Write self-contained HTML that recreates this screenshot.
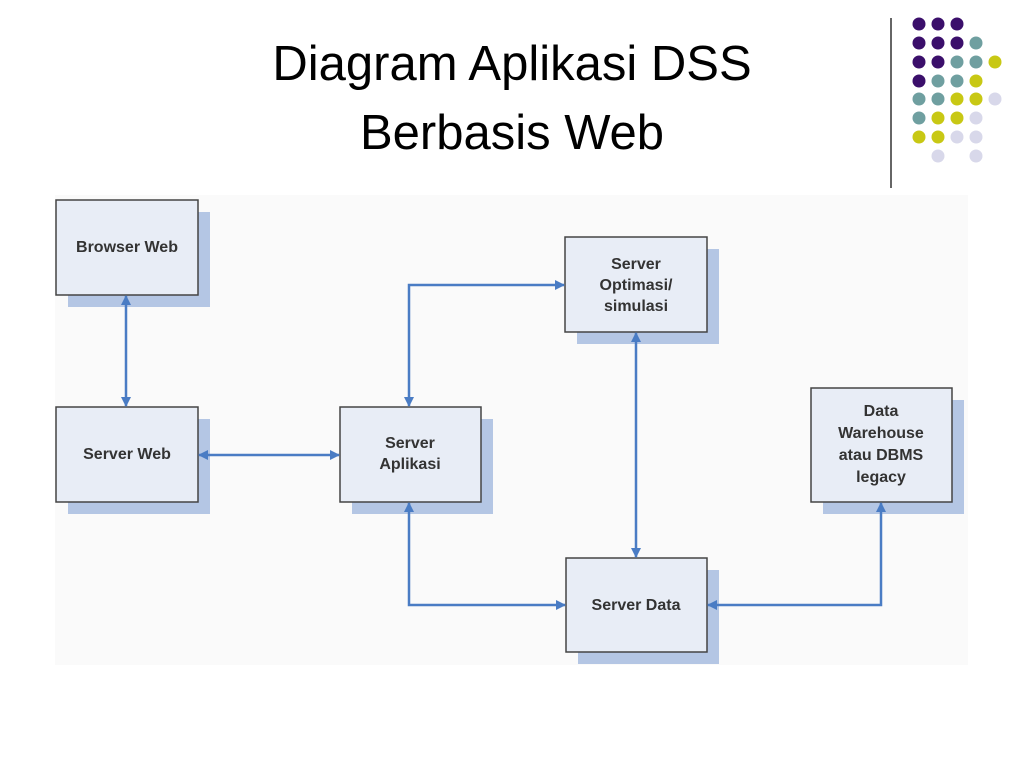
<!DOCTYPE html>
<html><head><meta charset="utf-8"><style>
body{margin:0;width:1024px;height:768px;background:#fff;overflow:hidden;font-family:"Liberation Sans",sans-serif}
.t{position:absolute;left:0;width:1024px;top:30px;text-align:center;font-size:49px;line-height:69px;color:#000}
</style></head><body>
<div class="t" style="left:0px">Diagram Aplikasi DSS<br>Berbasis Web</div>
<svg width="1024" height="768" style="position:absolute;left:0;top:0">
<line x1="891" y1="18" x2="891" y2="188" stroke="#333" stroke-width="1.5"/>
<g>
<circle cx="919" cy="24" r="6.5" fill="#3b0f6b"/><circle cx="938" cy="24" r="6.5" fill="#3b0f6b"/><circle cx="957" cy="24" r="6.5" fill="#3b0f6b"/>
<circle cx="919" cy="43" r="6.5" fill="#3b0f6b"/><circle cx="938" cy="43" r="6.5" fill="#3b0f6b"/><circle cx="957" cy="43" r="6.5" fill="#3b0f6b"/><circle cx="976" cy="43" r="6.5" fill="#6f9fa0"/>
<circle cx="919" cy="62" r="6.5" fill="#3b0f6b"/><circle cx="938" cy="62" r="6.5" fill="#3b0f6b"/><circle cx="957" cy="62" r="6.5" fill="#6f9fa0"/><circle cx="976" cy="62" r="6.5" fill="#6f9fa0"/><circle cx="995" cy="62" r="6.5" fill="#c8c814"/>
<circle cx="919" cy="81" r="6.5" fill="#3b0f6b"/><circle cx="938" cy="81" r="6.5" fill="#6f9fa0"/><circle cx="957" cy="81" r="6.5" fill="#6f9fa0"/><circle cx="976" cy="81" r="6.5" fill="#c8c814"/>
<circle cx="919" cy="99" r="6.5" fill="#6f9fa0"/><circle cx="938" cy="99" r="6.5" fill="#6f9fa0"/><circle cx="957" cy="99" r="6.5" fill="#c8c814"/><circle cx="976" cy="99" r="6.5" fill="#c8c814"/><circle cx="995" cy="99" r="6.5" fill="#d8d8ea"/>
<circle cx="919" cy="118" r="6.5" fill="#6f9fa0"/><circle cx="938" cy="118" r="6.5" fill="#c8c814"/><circle cx="957" cy="118" r="6.5" fill="#c8c814"/><circle cx="976" cy="118" r="6.5" fill="#d8d8ea"/>
<circle cx="919" cy="137" r="6.5" fill="#c8c814"/><circle cx="938" cy="137" r="6.5" fill="#c8c814"/><circle cx="957" cy="137" r="6.5" fill="#d8d8ea"/><circle cx="976" cy="137" r="6.5" fill="#d8d8ea"/>
<circle cx="938" cy="156" r="6.5" fill="#d8d8ea"/><circle cx="976" cy="156" r="6.5" fill="#d8d8ea"/>
</g>
<rect x="55" y="195" width="913" height="470" fill="#fafafa"/>
<defs><marker id="a" markerWidth="10" markerHeight="10" refX="9" refY="5" orient="auto-start-reverse" markerUnits="userSpaceOnUse"><path d="M0,0 L10,5 L0,10 z" fill="#4a7cc4"/></marker></defs>
<g fill="#b4c6e4">
<rect x="68" y="212" width="142" height="95"/><rect x="68" y="419" width="142" height="95"/>
<rect x="352" y="419" width="141" height="95"/><rect x="577" y="249" width="142" height="95"/>
<rect x="823" y="400" width="141" height="114"/><rect x="578" y="570" width="141" height="94"/>
</g>
<g fill="#e8edf6" stroke="#444" stroke-width="1.5">
<rect x="56" y="200" width="142" height="95"/><rect x="56" y="407" width="142" height="95"/>
<rect x="340" y="407" width="141" height="95"/><rect x="565" y="237" width="142" height="95"/>
<rect x="811" y="388" width="141" height="114"/><rect x="566" y="558" width="141" height="94"/>
</g>
<g stroke="#4a7cc4" stroke-width="2.5" fill="none" marker-start="url(#a)" marker-end="url(#a)">
<path d="M126,296 V406"/><path d="M199,455 H339"/>
<path d="M409,406 V285 H564"/><path d="M636,333 V557"/>
<path d="M409,503 V605 H565"/><path d="M881,503 V605 H708"/>
</g>
<g font-family="Liberation Sans,sans-serif" font-weight="bold" font-size="16" fill="#333" text-anchor="middle">
<text x="127" y="252">Browser Web</text><text x="127" y="459">Server Web</text>
<text x="410" y="448">Server</text><text x="410" y="469">Aplikasi</text>
<text x="636" y="269">Server</text><text x="636" y="290">Optimasi/</text><text x="636" y="311">simulasi</text>
<text x="881" y="416">Data</text><text x="881" y="438">Warehouse</text><text x="881" y="460">atau DBMS</text><text x="881" y="482">legacy</text>
<text x="636" y="610">Server Data</text>
</g>
</svg>
</body></html>
